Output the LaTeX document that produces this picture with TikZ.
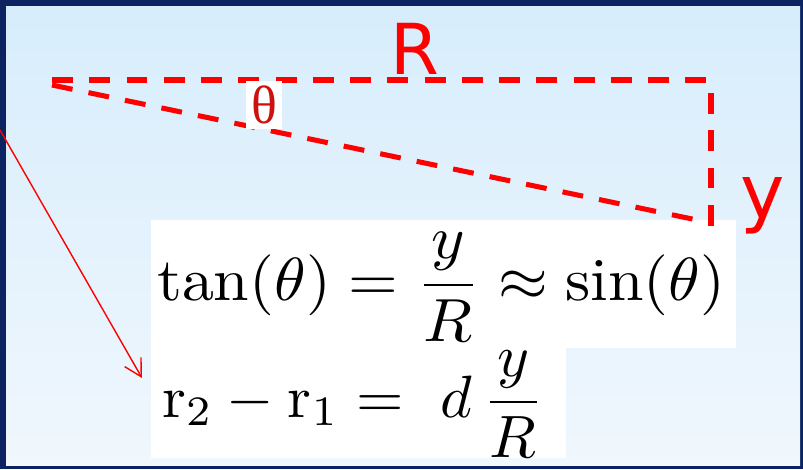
\documentclass[tikz,border=0pt]{standalone}
\usepackage{amsmath}
\usepackage{fontspec}
\newfontfamily\handfont{DejaVu Sans}
\newfontfamily\greekfont{Liberation Serif}
\usetikzlibrary{arrows.meta}
\definecolor{CFrame}{HTML}{0B2461}
\definecolor{CSkyTop}{HTML}{D7EDFC}
\definecolor{CSkyBot}{HTML}{F0F7FD}
\definecolor{CRed}{HTML}{FF0000}
\definecolor{CDeepRed}{HTML}{CC1111}

\begin{document}
\begin{tikzpicture}[x=0.03cm, y=-0.03cm,
  dashline/.style={draw=CRed, line width=4.3pt, dash pattern=on 17.9pt off 13.9pt},
  handlabel/.style={font=\handfont\fontsize{60}{60}\selectfont, text=CRed, inner sep=0pt},
  eqbox/.style={fill=white, draw=none},
  eqn/.style={anchor=base west, inner sep=0pt},
  pointer/.style={draw=CRed, line width=1.2pt, -{Straight Barb[length=14.5pt,width=16pt]}}]
\useasboundingbox (0,0) rectangle (803,469);
\fill[CFrame] (0,0) rectangle (803,469);
\shade[top color=CSkyTop, bottom color=CSkyBot] (6,6) rectangle (800,465);
\fill[eqbox] (151,220) rectangle (736,348);
\fill[eqbox] (151,348) rectangle (566,458);
\coordinate (apex) at (52,85);
\coordinate (topleft) at (52,80);
\coordinate (topright) at (708,80);
\coordinate (sidetop) at (711,93);
\coordinate (sidebot) at (711,227);
\coordinate (hypend) at (697,220);
\draw[dashline] (topleft) -- (topright);
\draw[dashline] (sidetop) -- (sidebot);
\draw[dashline] (apex) -- (hypend);
\node[handlabel] (labR) at (415,49) {R};
\node[handlabel, font=\handfont\fontsize{64}{64}\selectfont] (labY) at (763,206) {y};
\node[fill=white, inner sep=4pt, text=CDeepRed, font=\greekfont\fontsize{46}{46}\selectfont] (labTheta) at (264,105) {θ};
\node[eqn] (eqtan) at (157,300) {\scalebox{5.45}[5.2]{$\tan(\theta) = \dfrac{y}{R} \approx \sin(\theta)$}};
\node[eqn] (eqpath) at (162,417) {\scalebox{5.2}[5.1]{$\mathrm{r}_2 - \mathrm{r}_1 =\ d\,\dfrac{y}{R}$}};
\coordinate (ptrstart) at (0,130);
\coordinate (ptrend) at (142,378);
\draw[pointer] (ptrstart) -- (ptrend);
\end{tikzpicture}
\end{document}
